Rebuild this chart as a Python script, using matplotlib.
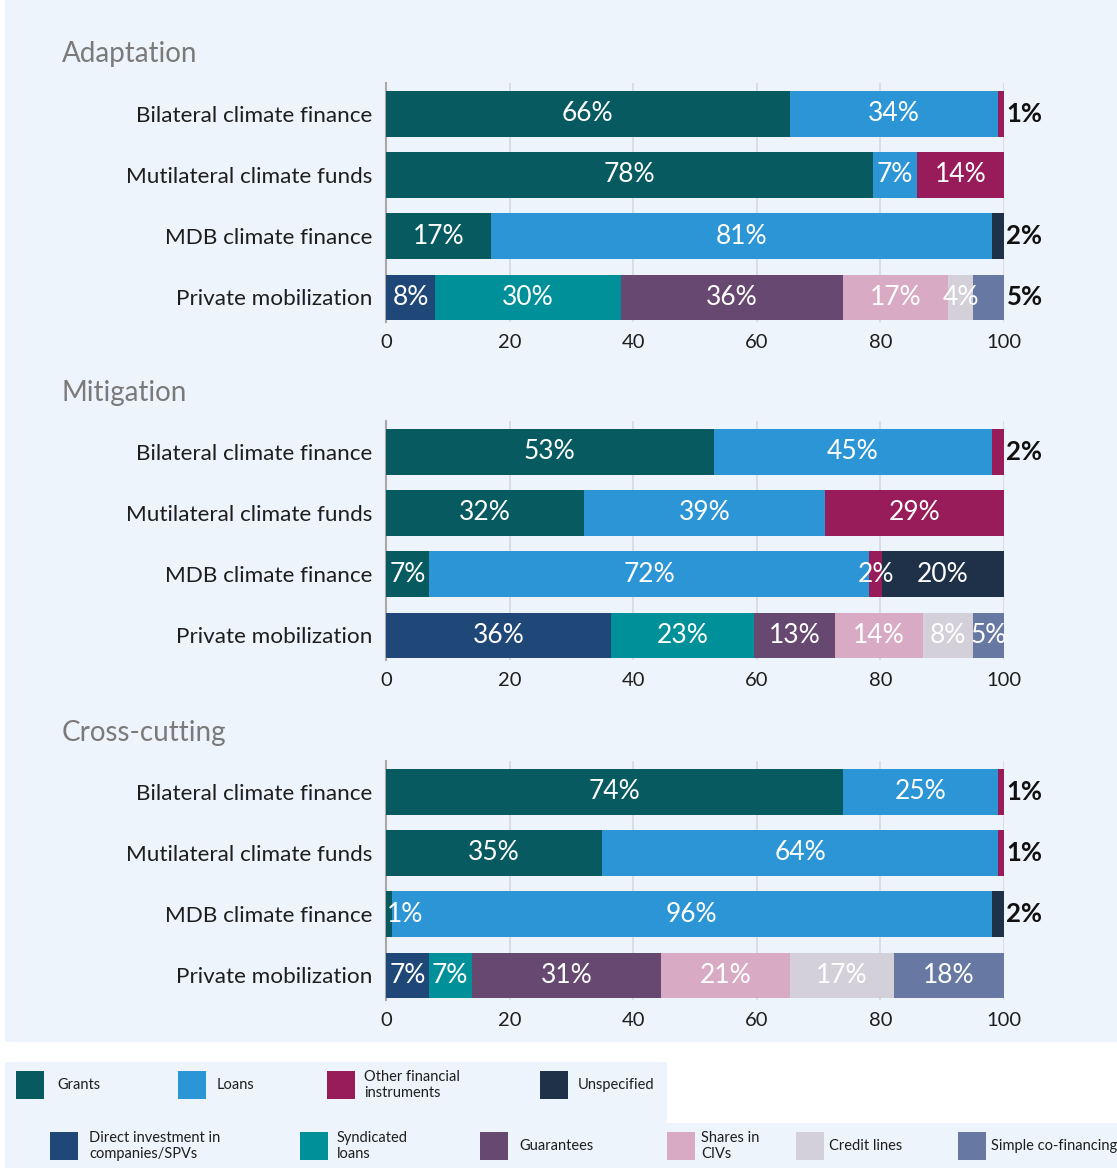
import matplotlib
matplotlib.use('Agg')
import matplotlib.pyplot as plt
from matplotlib.patches import Rectangle

plt.rcParams['font.family'] = ['Lato', 'DejaVu Sans']

W, H = 1117, 1168

rows = ['Bilateral climate finance', 'Mutilateral climate funds',
        'MDB climate finance', 'Private mobilization']
panels = ['Adaptation', 'Mitigation', 'Cross-cutting']

public_types = ['Grants', 'Loans', 'Other financial\ninstruments', 'Unspecified']
private_types = ['Direct investment in\ncompanies/SPVs', 'Syndicated\nloans', 'Guarantees',
                 'Shares in\nCIVs', 'Credit lines', 'Simple co-financing']

public_colors = ['#075a60', '#2b95d6', '#981b5a', '#1f3149']
private_colors = ['#1f4878', '#00909a', '#674870', '#d8aac4', '#d3d0da', '#6779a3']

# shares in %, public rows: grants, loans, other, unspecified
adaptation = [[66, 34, 1, 0], [78, 7, 14, 0], [17, 81, 0, 2]]
adaptation_private = [8, 30, 36, 17, 4, 5]
mitigation = [[53, 45, 2, 0], [32, 39, 29, 0], [7, 72, 2, 20]]
mitigation_private = [36, 23, 13, 14, 8, 5]
crosscutting = [[74, 25, 1, 0], [35, 64, 1, 0], [1, 96, 0, 2]]
crosscutting_private = [7, 7, 31, 21, 17, 18]

# labels written after the bar end: (row, segment)
adaptation_out = [(0, 2), (2, 3), (3, 5)]
mitigation_out = [(0, 2)]
crosscutting_out = [(0, 2), (1, 2), (2, 3)]

panel_data = [(adaptation, adaptation_private, adaptation_out),
              (mitigation, mitigation_private, mitigation_out),
              (crosscutting, crosscutting_private, crosscutting_out)]

BG = '#eef4fc'


def px_rect(x0, y0, x1, y1):
    # pixel box (top-left origin) -> figure fraction
    return (x0 / W, 1 - y1 / H, (x1 - x0) / W, (y1 - y0) / H)


fig = plt.figure(figsize=(W / 100, H / 100), dpi=100)
fig.patch.set_facecolor('white')

# light blue panels
for box in [(5, 0, 1117, 1042), (5, 1062, 667, 1123), (5, 1123, 1117, 1168)]:
    x, y, w, h = px_rect(*box)
    fig.patches.append(Rectangle((x, y), w, h, transform=fig.transFigure,
                                 facecolor=BG, edgecolor='none', zorder=-5))

ax_tops = [83, 421, 761]
title_y = [54, 393, 733]

for k, (pub, priv, out) in enumerate(panel_data):
    top = ax_tops[k]
    ax = fig.add_axes(px_rect(386, top, 1004, top + 239))
    ax.set_zorder(2)
    ax.set_facecolor('none')
    all_rows = pub + [priv]
    for i, segs in enumerate(all_rows):
        cols = public_colors if i < 3 else private_colors
        total = sum(segs)
        left = 0
        for j, v in enumerate(segs):
            if v == 0:
                continue
            w = v * 100 / total
            ax.barh(i, w, left=left, height=0.75, color=cols[j], zorder=2)
            if (i, j) in out:
                ax.text(100.4, i, f'{v}%', ha='left', va='center', fontsize=18.5,
                        color='#111111', fontweight='bold', clip_on=False, zorder=3)
            elif v <= 1:
                ax.text(left + 0.2, i, f'{v}%', ha='left', va='center', fontsize=19,
                        color='white', zorder=3)
            else:
                ax.text(left + w / 2, i, f'{v}%', ha='center', va='center', fontsize=19,
                        color='white', zorder=3)
            left += w
    ax.set_xlim(0, 100)
    ax.set_ylim(3.4, -0.5)
    ax.set_xticks([0, 20, 40, 60, 80, 100])
    ax.set_yticks(range(4))
    ax.set_yticklabels(rows, fontsize=16.2, color='#1e1e1e')
    ax.tick_params(axis='x', length=0, pad=9, labelsize=14.5, labelcolor='#1e1e1e')
    ax.tick_params(axis='y', length=0, pad=10)
    ax.xaxis.grid(True, color='#d6d9de', lw=1.2, zorder=0)
    ax.set_axisbelow(True)
    for s in ['top', 'right', 'bottom']:
        ax.spines[s].set_visible(False)
    ax.spines['left'].set_color('#a9a9a9')
    ax.spines['left'].set_linewidth(1.5)
    ax.spines['left'].set_zorder(1)

    fig.text(62 / W, 1 - title_y[k] / H, panels[k], fontsize=20, color='#7a7a7a',
             va='center', ha='left')

# legend
def legend_item(sq_x, text_x, yc, color, label):
    x, y, w, h = px_rect(sq_x, yc - 14, sq_x + 28, yc + 14)
    fig.patches.append(Rectangle((x, y), w, h, transform=fig.transFigure,
                                 facecolor=color, edgecolor='none', zorder=2))
    fig.text(text_x / W, 1 - yc / H, label, fontsize=10.5, color='#1e1e1e',
             va='center', ha='left', linespacing=1.1)


for sx, tx, c, lab in zip([16, 178, 327, 540], [57, 217, 364, 578],
                          public_colors, public_types):
    legend_item(sx, tx, 1085, c, lab)

for sx, tx, c, lab in zip([50, 300, 480, 667, 796, 958], [89, 337, 519, 701, 829, 991],
                          private_colors, private_types):
    legend_item(sx, tx, 1146, c, lab)

fig.savefig('out.png', dpi=100, facecolor='white')
